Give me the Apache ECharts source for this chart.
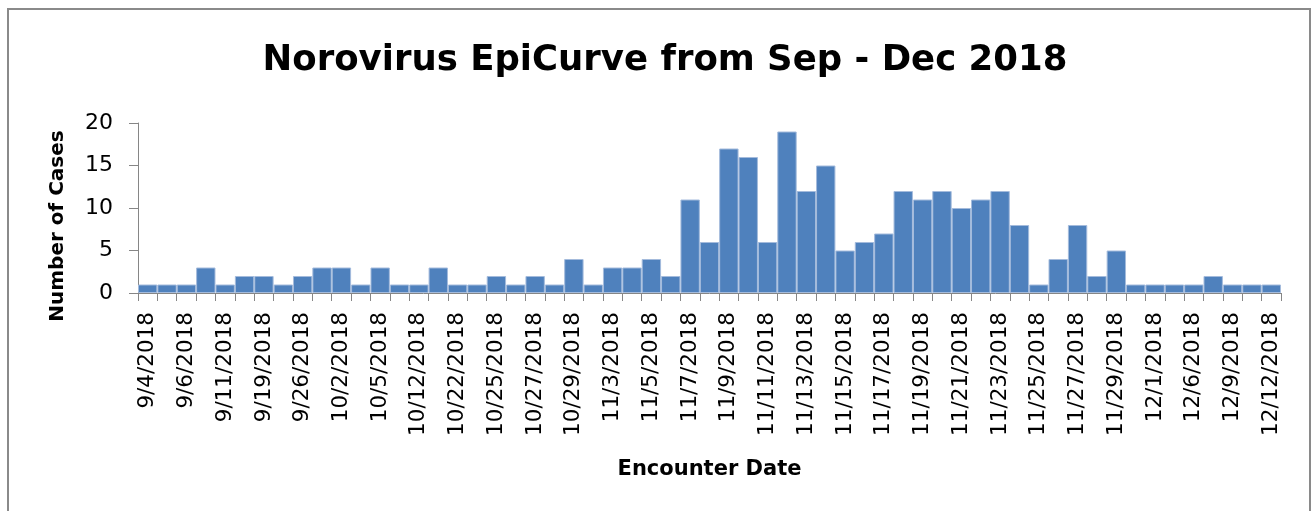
<!DOCTYPE html>
<html>
<head>
<meta charset="utf-8">
<script src="https://cdn.jsdelivr.net/npm/echarts@6/dist/echarts.min.js"></script>
<style>
  html, body { margin: 0; padding: 0; background: #fff; }
  #chart { width: 1312px; height: 511px; }
</style>
</head>
<body>
<div id="chart"></div>
<script>
// encounter dates (only every other one is labelled on the axis)
const dates = [
  "9/4/2018", "9/5/2018", "9/6/2018", "9/10/2018", "9/11/2018", "9/13/2018",
  "9/19/2018", "9/24/2018", "9/26/2018", "9/28/2018", "10/2/2018", "10/3/2018",
  "10/5/2018", "10/9/2018", "10/12/2018", "10/17/2018", "10/22/2018", "10/24/2018",
  "10/25/2018", "10/26/2018", "10/27/2018", "10/28/2018", "10/29/2018", "11/1/2018",
  "11/3/2018", "11/4/2018", "11/5/2018", "11/6/2018", "11/7/2018", "11/8/2018",
  "11/9/2018", "11/10/2018", "11/11/2018", "11/12/2018", "11/13/2018", "11/14/2018",
  "11/15/2018", "11/16/2018", "11/17/2018", "11/18/2018", "11/19/2018", "11/20/2018",
  "11/21/2018", "11/22/2018", "11/23/2018", "11/24/2018", "11/25/2018", "11/26/2018",
  "11/27/2018", "11/28/2018", "11/29/2018", "11/30/2018", "12/1/2018", "12/4/2018",
  "12/6/2018", "12/7/2018", "12/9/2018", "12/10/2018", "12/12/2018"
];
const cases = [
  1, 1, 1, 3, 1, 2, 2, 1, 2, 3, 3, 1, 3, 1, 1,
  3, 1, 1, 2, 1, 2, 1, 4, 1, 3, 3, 4, 2,
  11, 6, 17, 16, 6, 19, 12, 15, 5,
  6, 7, 12, 11, 12, 10, 11, 12, 8,
  1, 4, 8, 2, 5,
  1, 1, 1, 1, 2, 1, 1, 1
];
const yTicks = { min: 0, max: 20, interval: 5 };

const chart = echarts.init(document.getElementById("chart"));
const font = "'DejaVu Sans', sans-serif";
const option = {
  animation: false,
  title: {
    text: "Norovirus EpiCurve from Sep - Dec 2018",
    left: 660,
    textAlign: "center",
    top: 38,
    textStyle: { fontFamily: font, fontSize: 35.5, fontWeight: "bold", color: "#000" }
  },
  graphic: [
    {
      type: "rect",
      shape: { x: 8, y: 9, width: 1302, height: 520 },
      style: { fill: "none", stroke: "#8a8a8a", lineWidth: 2 },
      silent: true
    },
    {
      type: "text",
      x: 58,
      y: 226,
      rotation: Math.PI / 2,
      style: {
        text: "Number of Cases",
        fontFamily: font,
        fontSize: 20,
        fontWeight: "bold",
        fill: "#000",
        textAlign: "center",
        textVerticalAlign: "middle"
      }
    }
  ],
  grid: { left: 138, right: 31, top: 123, bottom: 218 },
  xAxis: {
    type: "category",
    data: dates,
    name: "Encounter Date",
    nameLocation: "middle",
    nameGap: 166,
    nameTextStyle: { fontFamily: font, fontSize: 21, fontWeight: "bold", color: "#000" },
    axisLine: { lineStyle: { color: "#868686", width: 1 } },
    axisTick: { show: true, interval: 0, length: 8, lineStyle: { color: "#868686" } },
    axisLabel: {
      interval: 1,
      rotate: 90,
      margin: 19,
      fontFamily: font,
      fontSize: 21.5,
      color: "#000"
    }
  },
  yAxis: {
    type: "value",
    min: yTicks.min,
    max: yTicks.max,
    interval: yTicks.interval,
    axisLine: { show: true, lineStyle: { color: "#868686", width: 1 } },
    axisTick: { show: true, inside: false, length: 9, lineStyle: { color: "#868686" } },
    splitLine: { show: false },
    axisLabel: { margin: 25, fontFamily: font, fontSize: 22, color: "#000" }
  },
  series: [
    {
      type: "bar",
      data: cases,
      barCategoryGap: "0%",
      itemStyle: { color: "#4F81BD", borderColor: "#a4bbdc", borderWidth: 1 }
    }
  ]
};
chart.setOption(option);
window.addEventListener("resize", function () {
  chart.resize();
});
</script>
</body>
</html>
